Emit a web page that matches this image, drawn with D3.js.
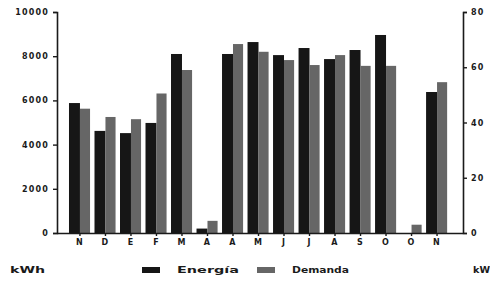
<!DOCTYPE html>
<html><head><meta charset="utf-8">
<script src="https://cdn.jsdelivr.net/npm/d3@7"></script>
<style>
body{margin:0;background:#fff;}
svg{display:block;}
text{font-family:"DejaVu Sans",Arial,sans-serif;font-weight:bold;fill:#1a1a1a;}
</style></head>
<body>
<svg id="c" width="490" height="287"></svg>
<script>
const months = ["N","D","E","F","M","A","A","M","J","J","A","S","O","O","N"];
const energia = [5880, 4620, 4520, 4980, 8100, 200, 8100, 8640, 8050, 8370, 7870, 8280, 8960, 0, 6380];
const demanda = [45, 42, 41.2, 50.5, 59, 4.4, 68.4, 65.6, 62.6, 60.8, 64.4, 60.5, 60.5, 3, 54.6];
const leftTicks = [0, 2000, 4000, 6000, 8000, 10000];
const rightTicks = [0, 20, 40, 60, 80];

const svg = d3.select("#c");
const x = d3.scaleBand().domain(d3.range(months.length)).range([57, 460]).paddingInner(0).paddingOuter(0.4);
const yL = d3.scaleLinear().domain([0, 10000]).range([233, 12]);
const yR = d3.scaleLinear().domain([0, 80]).range([233, 12]);
const bw = x.bandwidth() * 0.43;
const cx = i => x(i) + x.bandwidth() / 2;

svg.append("g").selectAll("rect.e").data(energia).join("rect")
  .attr("x", (d, i) => cx(i) - bw).attr("width", bw)
  .attr("y", d => yL(d)).attr("height", d => yL(0) - yL(d))
  .attr("fill", "#161616");
svg.append("g").selectAll("rect.d").data(demanda).join("rect")
  .attr("x", (d, i) => cx(i)).attr("width", bw * 0.92)
  .attr("y", d => yR(d)).attr("height", d => yR(0) - yR(d))
  .attr("fill", "#666");

const gl = svg.append("g").attr("transform", "translate(57,0)")
  .call(d3.axisLeft(yL).tickValues(leftTicks).tickSize(4).tickPadding(4).tickFormat(d3.format("d")));
const gr = svg.append("g").attr("transform", "translate(463,0)")
  .call(d3.axisRight(yR).tickValues(rightTicks).tickSize(4).tickPadding(4));
const gx = svg.append("g").attr("transform", "translate(0,233)")
  .call(d3.axisBottom(x).tickSize(3).tickPadding(3).tickFormat(i => months[i]));
svg.selectAll(".domain").attr("stroke", "#1a1a1a").attr("stroke-width", 1.6);
svg.selectAll(".tick line").attr("stroke", "#1a1a1a").attr("stroke-width", 1.4);
gx.select(".domain").attr("d", "M57,0.5H463");
svg.selectAll(".tick text").attr("font-size", 8).attr("font-weight", "bold")
  .style("letter-spacing", "1.2px").attr("fill", "#1a1a1a")
  .attr("font-family", "'DejaVu Sans',sans-serif");
gx.selectAll(".tick text").attr("font-size", 8);

svg.append("text").attr("x", 10).attr("y", 273).attr("font-size", 8)
  .attr("textLength", 35).attr("lengthAdjust", "spacingAndGlyphs").text("kWh");
svg.append("text").attr("x", 473).attr("y", 273).attr("font-size", 8)
  .attr("textLength", 17).attr("lengthAdjust", "spacingAndGlyphs").text("kW");
const leg = [{t: "Energía", c: "#161616", x: 142, w: 62}, {t: "Demanda", c: "#666", x: 257, w: 57}];
const lg = svg.append("g").selectAll("g").data(leg).join("g");
lg.append("rect").attr("x", d => d.x).attr("y", 267).attr("width", 18).attr("height", 6).attr("fill", d => d.c);
lg.append("text").attr("x", d => d.x + 35).attr("y", 273).attr("font-size", 8)
  .attr("textLength", d => d.w).attr("lengthAdjust", "spacingAndGlyphs").text(d => d.t);
</script>
</body></html>
